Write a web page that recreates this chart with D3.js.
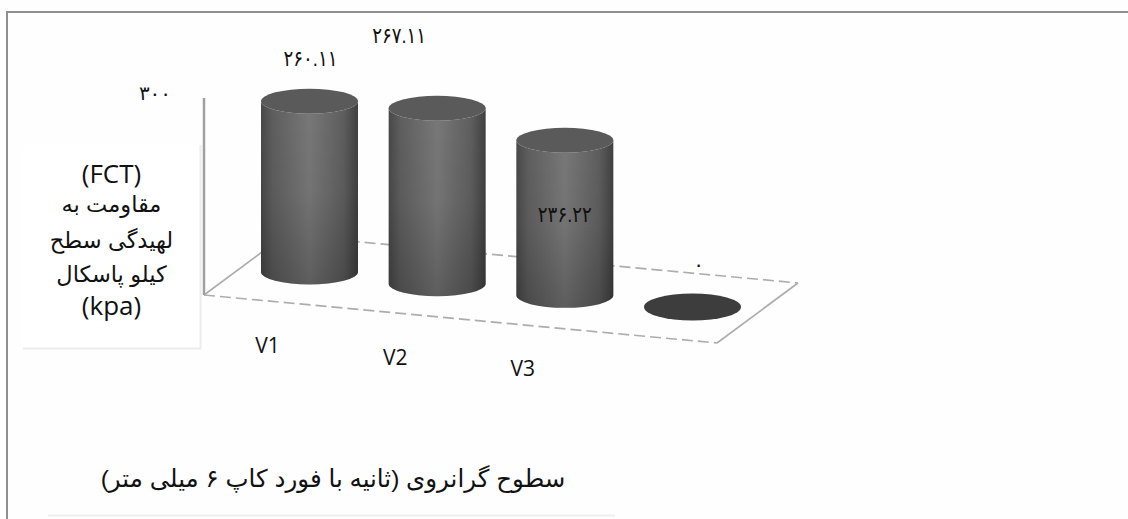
<!DOCTYPE html>
<html lang="fa">
<head>
<meta charset="utf-8">
<script src="https://cdn.jsdelivr.net/npm/d3@7/dist/d3.min.js"></script>
<style>
  html, body { margin: 0; padding: 0; background: #fefefe; overflow: hidden; }
  svg { display: block; }
  text { fill: #111; }
  .latin { font-family: "Open Sans", sans-serif; }
  .fa { font-family: "Liberation Sans", "DejaVu Sans", sans-serif; direction: rtl; unicode-bidi: embed; }
</style>
</head>
<body>
<svg id="chart" width="1128" height="519"></svg>
<script>
// Flash-cut resistance by viscosity level
const categories = ["V1", "V2", "V3", ""];
const values = [260.11, 267.11, 236.22, 0];
const axisMax = 300;
const yTitleLines = ["(FCT)", "مقاومت به", "لهیدگی سطح", "کیلو پاسکال", "(kpa)"];
const xTitle = "سطوح گرانروی (ثانیه با فورد کاپ ۶ میلی متر)";

const svg = d3.select("#chart");
const defs = svg.append("defs");

// Layout of the oblique 3D floor
const floor = { fl: [204, 295], fr: [717, 343], br: [798, 283], bl: [285, 235] };
const rx = 48.5, ry = 12.5;

// Columns step along the floor, so both the x and the base y depend on the category
const xPos = d3.scalePoint().domain(categories).range([309.5, 692.5]);
const basePos = d3.scalePoint().domain(categories).range([272, 307]);
const rise = d3.scaleLinear().domain([0, axisMax]).range([0, 197]);

const persian = s => s.replace(/\d/g, d => "۰۱۲۳۴۵۶۷۸۹"[+d]);
const fmt = v => persian(Number.isInteger(v) ? String(v) : d3.format(".2f")(v));

// Shading of the cylinder walls
const side = defs.append("linearGradient").attr("id", "wall");
[[0, "#484848"], [0.12, "#5e5e5e"], [0.5, "#787878"], [0.85, "#5e5e5e"], [1, "#404040"]]
  .forEach(([o, c]) => side.append("stop").attr("offset", o).attr("stop-color", c));
const fade = defs.append("linearGradient").attr("id", "fade")
  .attr("x1", 0).attr("x2", 0).attr("y1", 0).attr("y2", 1);
[[0, 0], [0.5, 0.04], [1, 0.22]]
  .forEach(([o, a]) => fade.append("stop").attr("offset", o).attr("stop-color", "#000").attr("stop-opacity", a));

// Frame around the figure
svg.append("path")
  .attr("d", "M7,519V12H1128")
  .attr("fill", "none").attr("stroke", "#8f8f8f").attr("stroke-width", 2);

// Panels behind the axis titles
svg.append("rect").attr("x", 23).attr("y", 145).attr("width", 177).attr("height", 203).attr("fill", "#fff");
svg.append("path").attr("d", "M23,348.5H200.5V145").attr("fill", "none").attr("stroke", "#ececec").attr("stroke-width", 2);
svg.append("path").attr("d", "M48,515.5H615").attr("fill", "none").attr("stroke", "#eeeeee").attr("stroke-width", 2);

// Floor: side edges are continuous, front and back edges dashed
const edge = (a, b, dash) => svg.append("line")
  .attr("x1", a[0]).attr("y1", a[1]).attr("x2", b[0]).attr("y2", b[1])
  .attr("stroke", "#adadad").attr("stroke-width", 1.7).attr("stroke-dasharray", dash);
edge(floor.fl, floor.bl, null);
edge(floor.fr, floor.br, null);
edge(floor.fl, floor.fr, "11 5");
edge(floor.bl, floor.br, "11 5");

// Vertical axis
svg.append("line")
  .attr("x1", 204).attr("x2", 204)
  .attr("y1", floor.fl[1]).attr("y2", floor.fl[1] - rise(axisMax))
  .attr("stroke", "#a0a0a0").attr("stroke-width", 2.5);

// Cylinders
const data = categories.map((c, i) => ({ c, v: values[i] }));
const cyl = svg.append("g").selectAll("g").data(data).join("g");

const body = d => {
  const cx = xPos(d.c), b = basePos(d.c), t = b - rise(d.v);
  return `M${cx - rx},${t}V${b}A${rx},${ry} 0 0 0 ${cx + rx},${b}V${t}A${rx},${ry} 0 0 1 ${cx - rx},${t}Z`;
};
cyl.filter(d => d.v > 0).append("path").attr("d", body).attr("fill", "url(#wall)");
cyl.filter(d => d.v > 0).append("path").attr("d", body).attr("fill", "url(#fade)");
cyl.append("ellipse")
  .attr("cx", d => xPos(d.c))
  .attr("cy", d => basePos(d.c) - rise(d.v))
  .attr("rx", rx).attr("ry", d => d.v > 0 ? ry : 13.5)
  .attr("fill", d => d.v > 0 ? "#5a5a5a" : "#3d3d3d");

// Value labels sit at hand-placed offsets from each cylinder's top
const labelDx = [1, -38, 0, 6];
const labelDy = [-35, -65, 82, -36];
svg.append("g").selectAll("text").data(data).join("text")
  .attr("class", "fa")
  .attr("x", (d, i) => xPos(d.c) + labelDx[i])
  .attr("y", (d, i) => basePos(d.c) - rise(d.v) + labelDy[i])
  .attr("text-anchor", "middle")
  .attr("font-size", d => d.v > 0 ? 22 : 20)
  .attr("lengthAdjust", "spacingAndGlyphs")
  .attr("textLength", d => d.v > 0 ? 54 : null)
  .text(d => fmt(d.v));

// Top tick label
svg.append("text").attr("class", "fa")
  .attr("x", 155).attr("y", 100).attr("text-anchor", "middle")
  .attr("font-size", 20).text(fmt(axisMax));

// Category labels
const catDx = -42, catDy = 81;
svg.append("g").selectAll("text").data(categories.slice(0, 3)).join("text")
  .attr("class", "latin")
  .attr("x", d => xPos(d) + catDx)
  .attr("y", d => basePos(d) + catDy)
  .attr("text-anchor", "middle").attr("font-size", 21).text(d => d);

// Axis titles
const lineY = [183, 212, 248, 282, 315];
svg.append("g").selectAll("text").data(yTitleLines).join("text")
  .attr("class", (d, i) => (i === 0 || i === 4) ? "latin" : "fa")
  .attr("x", 111.5).attr("y", (d, i) => lineY[i])
  .attr("text-anchor", "middle")
  .attr("font-size", (d, i) => (i === 0 || i === 4) ? 26 : 22.5)
  .text(d => d);

svg.append("text").attr("class", "fa")
  .attr("x", 333).attr("y", 487).attr("text-anchor", "middle")
  .attr("font-size", 24.5).text(xTitle);
</script>
</body>
</html>
